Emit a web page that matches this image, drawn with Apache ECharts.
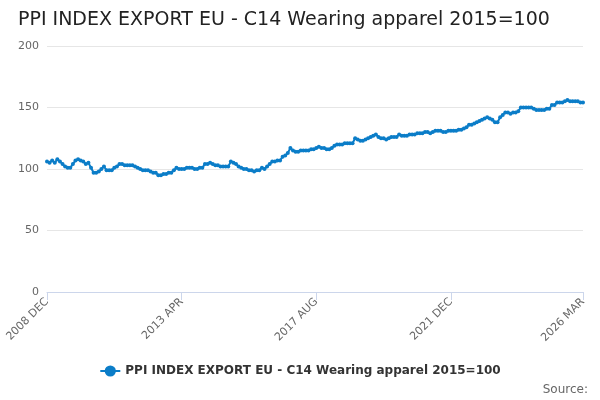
<!DOCTYPE html>
<html><head><meta charset="utf-8">
<script src="https://cdn.jsdelivr.net/npm/echarts@6/dist/echarts.min.js"></script>
<style>html,body{margin:0;padding:0;background:#fff}#c{width:600px;height:400px}</style>
</head><body><div id="c"></div>
<script>
var seriesName = 'PPI INDEX EXPORT EU - C14 Wearing apparel 2015=100';
var values = [
106,105,107,105,108,106,104,102,101,101,104,107,
108,107,106,104,105,101,97,97,98,100,102,99,
99,99,101,102,104,104,103,103,103,103,102,101,
100,99,99,99,98,97,97,95,95,96,96,97,
97,99,101,100,100,100,101,101,101,100,100,101,
101,104,104,105,104,103,103,102,102,102,102,106,
105,104,102,101,100,100,99,99,98,99,99,101,
100,102,104,106,106,107,107,110,111,113,117,115,
114,114,115,115,115,115,116,116,117,118,117,117,
116,116,117,119,120,120,120,121,121,121,121,125,
124,123,123,124,125,126,127,128,126,125,125,124,
125,126,126,126,128,127,127,127,128,128,128,129,
129,129,130,130,129,130,131,131,131,130,130,131,
131,131,131,132,132,133,134,136,136,137,138,139,
140,141,142,141,140,138,138,142,144,146,146,145,
146,146,147,150,150,150,150,150,149,148,148,148,
148,149,149,152,152,154,154,154,155,156,155,155,
155,155,154,154];
var months = ['JAN','FEB','MAR','APR','MAY','JUN','JUL','AUG','SEP','OCT','NOV','DEC'];
var categories = [];
for (var i = 0; i < values.length; i++) {
  var m = 11 + i;
  categories.push((2008 + Math.floor(m / 12)) + ' ' + months[m % 12]);
}
var last = values.length - 1;
function showTick(i){ return i % 52 === 0 || i === last; }
var chart = echarts.init(document.getElementById('c'));
chart.setOption({
  animation:false,
  title:{text:'PPI INDEX EXPORT EU - C14 Wearing apparel 2015=100',left:13,top:6,
    textStyle:{fontFamily:'DejaVu Sans',fontSize:19,fontWeight:'normal',color:'#222'}},
  grid:{left:47,right:17,top:46,bottom:108},
  xAxis:{type:'category',data:categories,boundaryGap:false,
    axisLine:{lineStyle:{color:'#ccd6eb'}},
    axisTick:{interval:function(i){return showTick(i);},length:8,lineStyle:{color:'#ccd6eb'}},
    axisLabel:{interval:function(i){return showTick(i);},rotate:45,color:'#666',fontSize:11,fontFamily:'DejaVu Sans',showMaxLabel:true}},
  yAxis:{type:'value',min:0,max:200,interval:50,
    axisLabel:{color:'#666',fontSize:11,fontFamily:'DejaVu Sans'},
    splitLine:{lineStyle:{color:'#e6e6e6'}}},
  legend:{bottom:18,left:'center',itemWidth:20,
    textStyle:{fontFamily:'DejaVu Sans',fontSize:12,fontWeight:'bold',color:'#333'}},
  graphic:[{type:'text',right:12,bottom:4,style:{text:'Source:',fill:'#666',font:'12px DejaVu Sans'}}],
  series:[{name:seriesName,type:'line',data:values,symbol:'circle',symbolSize:4,
    showAllSymbol:true,color:'#0b7dc8',lineStyle:{width:2}}]
});
</script></body></html>
